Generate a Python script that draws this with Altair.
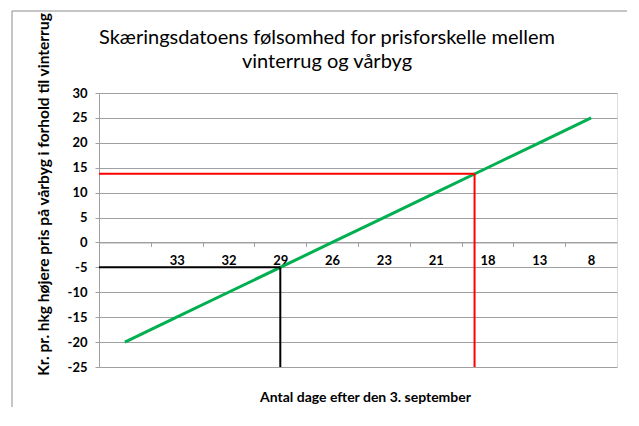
import altair as alt
import pandas as pd

# categories along the x axis (first category has no label)
categories = ["", "33", "32", "29", "26", "23", "21", "18", "13", "8"]
# price difference values for the green line
values = [-20, -15, -10, -5, 0, 5, 10, 15, 20, 25]

# reference lines: (category position, price difference)
black_x, black_y = 3, -5
red_x, red_y = 6.75, 13.8

y_min, y_max = -25, 30
x_min, x_max = -0.5, len(categories) - 0.5

FONT = "Lato"
GRID = "#a0a0a0"

line_df = pd.DataFrame({"idx": list(range(len(categories))), "val": values})
ref_df = pd.DataFrame({
    "idx": [x_min, black_x, x_min, red_x],
    "idx2": [black_x, black_x, red_x, red_x],
    "val": [black_y, black_y, red_y, red_y],
    "val2": [black_y, y_min, red_y, y_min],
    "c": ["black", "black", "red", "red"],
})

W, H = 518, 274
band = W / len(categories)
zero_off = -(H * (0 - y_min) / (y_max - y_min))

label_expr = "''"
for i in range(len(categories) - 1, -1, -1):
    label_expr = f"datum.value === {i} ? '{categories[i]}' : ({label_expr})"

x_scale = alt.Scale(domain=[x_min, x_max], nice=False, zero=False)
y_scale = alt.Scale(domain=[y_min, y_max], nice=False, zero=False)

x_axis = alt.Axis(
    values=list(range(len(categories) + 1)),
    labelExpr=label_expr,
    offset=zero_off,
    grid=False,
    domainColor=GRID,
    tickColor=GRID,
    tickSize=4,
    tickOffset=-band / 2,
    labelOffset=band / 2,
    labelFont=FONT, labelFontSize=13, labelFontWeight="bold", labelColor="black",
    labelPadding=8, labelOverlap=False, labelFlush=False,
    title="Antal dage efter den 3. september",
    titleFont=FONT, titleFontSize=14, titleFontWeight="bold", titleColor="black",
    titleY=155, titleBaseline="middle", titleX=W / 2 + 7,
)
y_axis = alt.Axis(
    values=list(range(y_min, y_max + 1, 5)),
    labelExpr="'' + datum.value",
    grid=True, gridColor=GRID,
    domainColor=GRID, tickColor=GRID, tickSize=4,
    labelFont=FONT, labelFontSize=13, labelFontWeight="bold", labelColor="black",
    labelPadding=8, labelOverlap=False, labelFlush=False,
    title="Kr. pr. hkg højere pris på vårbyg i forhold til vinterrug",
    titleFont=FONT, titleFontSize=15.5, titleFontWeight="bold", titleColor="black",
    titleAngle=270, titleX=-56, titleY=101, titleAlign="center", titleBaseline="middle",
)

green = alt.Chart(line_df).mark_line(color="#00b050", strokeWidth=3).encode(
    x=alt.X("idx:Q", scale=x_scale, axis=x_axis),
    y=alt.Y("val:Q", scale=y_scale, axis=y_axis),
)

refs = alt.Chart(ref_df).mark_rule(strokeWidth=2).encode(
    x=alt.X("idx:Q", scale=x_scale, axis=x_axis),
    x2="idx2:Q",
    y=alt.Y("val:Q", scale=y_scale, axis=y_axis),
    y2="val2:Q",
    color=alt.Color("c:N", scale=None, legend=None),
)

# decorative outer chart border (top and left edges)
frame_df = pd.DataFrame({"a": [0]})
frame_top = alt.Chart(frame_df).mark_rule(color="#8c8c8c", strokeWidth=1).encode(
    x=alt.value(12 - 99), x2=alt.value(700), y=alt.value(11 - 93),
)
frame_left = alt.Chart(frame_df).mark_rule(color="#8c8c8c", strokeWidth=1).encode(
    x=alt.value(12 - 99), y=alt.value(11 - 93), y2=alt.value(600),
)

chart = alt.layer(frame_top, frame_left, green, refs).properties(
    width=W, height=H,
    autosize=alt.AutoSizeParams(type="none"),
    padding={"left": 91, "top": 85, "right": 10, "bottom": 40},
    title=alt.TitleParams(
        text=["Skæringsdatoens følsomhed for prisforskelle mellem", "vinterrug og vårbyg"],
        font=FONT, fontSize=20, fontWeight="normal", color="black",
        anchor="middle", dx=-31, lineHeight=24, offset=0, dy=61,
    ),
).configure_view(stroke=None).configure(background="white")

chart.save("out.html", embed_options={"renderer": "svg", "actions": False})
